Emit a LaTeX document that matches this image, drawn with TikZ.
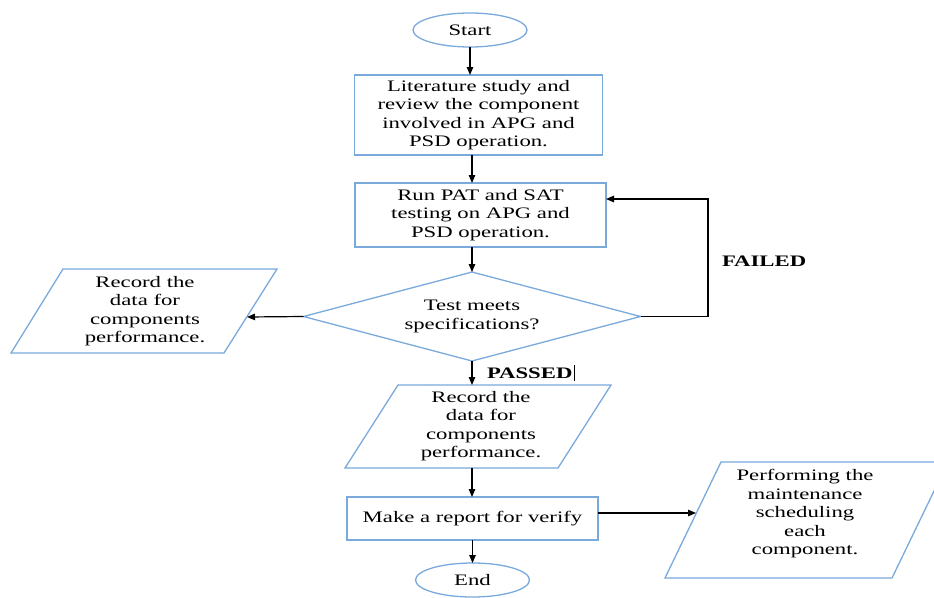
\documentclass[tikz,border=0pt]{standalone}
\usepackage{fontspec}
\setmainfont{Liberation Serif}[FakeStretch=1.42]
\usetikzlibrary{shapes.geometric,arrows.meta,calc}
\definecolor{boxblue}{RGB}{122,170,220}
\begin{document}
\begin{tikzpicture}[x=1pt,y=-1pt,
  every node/.style={font=\fontsize{16}{18.5}\selectfont, inner sep=0pt, outer sep=0pt},
  box/.style={draw=boxblue, line width=1.3pt, rectangle, align=center},
  term/.style={draw=boxblue, line width=1.3pt, ellipse, minimum width=114pt, minimum height=34pt},
  dec/.style={draw=boxblue, line width=1.3pt, diamond, aspect=3.79, minimum width=337pt, minimum height=89pt, align=center},
  io/.style={draw=boxblue, line width=1.3pt, line join=miter},
  txt/.style={align=center},
  arr/.style={draw=black, line width=1.2pt, -{Triangle[length=8pt,width=6.5pt]}},
  lbl/.style={anchor=west, font=\bfseries\fontsize{16}{18.5}\selectfont}]
\useasboundingbox[fill=white] (0,0) rectangle (934,597);

% nodes
\node[term] (start) at (470,30) {Start};
\node[box, minimum width=248pt, minimum height=80pt] (lit) at (478.5,115)
  {Literature study and\\review the component\\involved in APG and\\PSD operation.};
\node[box, minimum width=251pt, minimum height=64pt] (pat) at (480.5,215)
  {Run PAT and SAT\\testing on APG and\\PSD operation.};
\node[dec] (dia) at (472,316.5) {Test meets\\specifications?};

% left parallelogram
\draw[io] (63,269) -- (277,269) -- (224,353) -- (11,353) -- cycle;
\node[txt] (lp) at (145,311) {Record the\\data for\\components\\performance.};
\coordinate (lpin) at (247,317);

% bottom parallelogram
\draw[io] (398,385) -- (611,385) -- (558,468) -- (345,468) -- cycle;
\node[txt] (bp) at (481,426) {Record the\\data for\\components\\performance.};
\coordinate (bptop) at (472,385);
\coordinate (bpbot) at (472,468);

\node[box, minimum width=251pt, minimum height=43pt] (rep) at (472.5,518.5) {Make a report for verify};
\node[term] (end) at (472.5,580) {End};

% right parallelogram
\draw[io] (721,462) -- (948,462) -- (892,578) -- (665,578) -- cycle;
\node[txt] (rp) at (805,514) {Performing the\\maintenance\\scheduling\\each\\component.};
\coordinate (rpin) at (696,513);

% labels
\node[lbl] (failed) at (722,261) {FAILED};
\node[lbl] (passed) at (487,373) {PASSED};
\draw[line width=0.8pt] ($(passed.east)+(2,-8)$) -- ($(passed.east)+(2,8)$);

% connectors
\draw[arr] (start.south) -- (start.south |- lit.north);
\draw[arr] (lit.south -| dia.north) -- (pat.north -| dia.north);
\draw[arr] (pat.south -| dia.north) -- (dia.north);
\draw[arr] (dia.west) -- (lpin);
\draw[arr] (dia.east) -- (708,316.5) -- (708,199) -- ($(pat.east)+(0,-16)$);
\draw[arr] (dia.south) -- (bptop);
\draw[arr] (bpbot) -- (rep.north -| bpbot);
\draw[arr] (rep.south) -- (end.north);
\draw[arr] ($(rep.east)+(0,-5.5)$) -- (rpin);
\end{tikzpicture}
\end{document}
